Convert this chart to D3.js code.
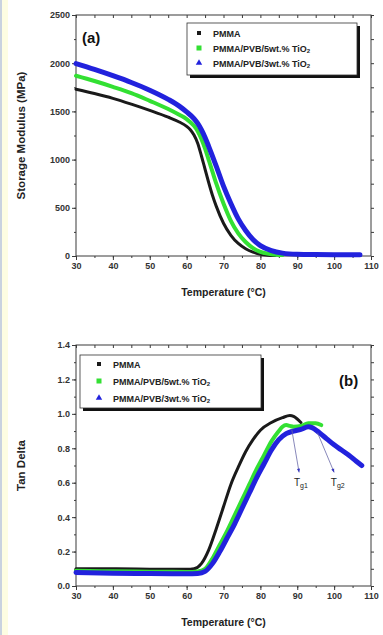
<!DOCTYPE html>
<html><head><meta charset="utf-8">
<script src="https://cdn.jsdelivr.net/npm/d3@7"></script>
<style>
html,body{margin:0;padding:0;background:#fff;}
svg{display:block;}
text{font-family:Arial,"Liberation Sans",sans-serif;}
</style></head>
<body>
<script>
// ---------- DATA ----------
const xTicks = [30,40,50,60,70,80,90,100,110];
const modTicks = [0,500,1000,1500,2000,2500];
const tanTicks = [0.0,0.2,0.4,0.6,0.8,1.0,1.2,1.4];
const seriesNames = ["PMMA","PMMA/PVB/5wt.% TiO2","PMMA/PVB/3wt.% TiO2"];
const seriesColors = ["#1a1a1a","#33e033","#2222dd"];

// Storage modulus (MPa)
const modT_pmma = [30,35,40,45,50,55,58,60,61,62,63,64,65,66,67,68,70,72,74,76,78,80,82,84];
const mod_pmma  = [1730,1685,1635,1575,1510,1440,1390,1345,1310,1255,1170,1040,900,760,630,520,340,215,130,75,40,18,8,5];
const modT_5wt  = [30,35,40,45,50,55,58,60,62,63,64,65,66,67,68,70,72,74,76,78,80,83,86];
const mod_5wt   = [1870,1815,1755,1690,1610,1525,1465,1420,1350,1295,1215,1115,995,875,755,545,365,235,145,82,42,18,10];
const modT_3wt  = [30,35,40,45,50,55,58,60,62,63,64,65,66,67,68,70,72,74,76,78,80,83,86,90,95,100,107];
const mod_3wt   = [1995,1935,1870,1800,1720,1625,1555,1495,1425,1375,1310,1230,1135,1035,935,725,545,385,265,172,108,56,30,18,15,14,14];

// Tan delta
const tanT_pmma = [30,40,50,60,62,64,66,68,70,72,74,76,78,80,83,86,88,89,90,91];
const tan_pmma  = [0.10,0.10,0.098,0.097,0.10,0.13,0.21,0.33,0.46,0.59,0.69,0.78,0.85,0.905,0.95,0.978,0.99,0.985,0.97,0.95];
const tanT_5wt  = [30,40,50,60,63,65,67,69,71,73,75,77,79,81,83,85,86,87,88,89,91,93,95,96.5];
const tan_5wt   = [0.088,0.085,0.083,0.082,0.085,0.10,0.16,0.24,0.32,0.41,0.50,0.59,0.68,0.76,0.84,0.90,0.925,0.935,0.93,0.925,0.93,0.945,0.945,0.935];
const tanT_3wt  = [30,40,50,60,63,65,67,69,71,73,75,77,79,81,83,85,87,89,91,93,94,96,98,100,102,104,106,107.5];
const tan_3wt   = [0.078,0.074,0.072,0.071,0.073,0.085,0.13,0.20,0.28,0.36,0.45,0.54,0.63,0.71,0.79,0.85,0.885,0.90,0.91,0.925,0.92,0.89,0.855,0.82,0.79,0.76,0.725,0.70];

// ---------- DRAW ----------
const W = 383, H = 635;
const svg = d3.select("body").append("svg").attr("width",W).attr("height",H);
svg.append("rect").attr("x",0).attr("y",0).attr("width",2).attr("height",H).attr("fill","#c9d2df");
svg.append("rect").attr("x",2).attr("y",0).attr("width",6).attr("height",H).attr("fill","#fdfde2");

const x0 = 76, x1 = 371;
const axisColor = "#3a3a3a";

function panel(cfg){
  const x = d3.scaleLinear().domain([30,110]).range([x0,x1]);
  const y = d3.scaleLinear().domain(cfg.ydom).range([cfg.bottom,cfg.top]);
  const g = svg.append("g");
  g.append("rect").attr("x",x0).attr("y",cfg.top).attr("width",x1-x0).attr("height",cfg.bottom-cfg.top)
    .attr("fill","none").attr("stroke",axisColor).attr("stroke-width",1);
  const xMinor = d3.range(30,111,5);
  const yMinor = d3.range(cfg.ydom[0], cfg.ydom[1]+cfg.minor/2, cfg.minor);
  const bx = g.append("g").attr("transform",`translate(0,${cfg.bottom})`)
    .call(d3.axisBottom(x).tickValues(xMinor).tickSize(2).tickFormat(""));
  const bx2 = g.append("g").attr("transform",`translate(0,${cfg.bottom})`)
    .call(d3.axisBottom(x).tickValues(xTicks).tickSize(4).tickPadding(3).tickFormat(d3.format("d")));
  const tx = g.append("g").attr("transform",`translate(0,${cfg.top})`)
    .call(d3.axisBottom(x).tickValues(xMinor).tickSize(3).tickFormat(""));
  const ly = g.append("g").attr("transform",`translate(${x0},0)`)
    .call(d3.axisLeft(y).tickValues(yMinor).tickSize(2).tickFormat(""));
  const ly2 = g.append("g").attr("transform",`translate(${x0},0)`)
    .call(d3.axisLeft(y).tickValues(cfg.ticks).tickSize(4).tickPadding(2).tickFormat(cfg.fmt));
  const ry = g.append("g").attr("transform",`translate(${x1},0)`)
    .call(d3.axisRight(y).tickValues(yMinor).tickSize(3).tickFormat(""));
  [bx,bx2,tx,ly,ly2,ry].forEach(a=>{
    a.select(".domain").remove();
    a.selectAll("line").attr("stroke",axisColor);
    a.selectAll("text").attr("fill","#333").attr("font-size",9).attr("font-weight","bold");
  });
  const line = d3.line().x(d=>x(d[0])).y(d=>y(d[1])).curve(d3.curveMonotoneX);
  const widths = [3,4,5];
  cfg.series.forEach((s,i)=>{
    const pts = s.t.map((t,k)=>[t,s.v[k]]);
    g.append("path").datum(pts).attr("d",line).attr("fill","none")
      .attr("stroke",seriesColors[i]).attr("stroke-width",widths[i]).attr("stroke-linejoin","round").attr("stroke-linecap","round");
  });
  g.append("text").attr("x",(x0+x1)/2).attr("y",cfg.bottom+40).attr("text-anchor","middle")
    .attr("font-size",10.5).attr("font-weight","bold").attr("fill","#222").text("Temperature (°C)");
  g.append("text").attr("transform",`translate(25,${(cfg.top+cfg.bottom)/2}) rotate(-90)`).attr("text-anchor","middle")
    .attr("font-size",11.5).attr("font-weight","bold").attr("fill","#222").text(cfg.ytitle);
  g.append("text").attr("x",cfg.lab[0]).attr("y",cfg.lab[1]).attr("font-size",15).attr("font-weight","bold")
    .attr("fill","#111").text(cfg.label);
  const L = cfg.legend;
  g.append("path").attr("d",`M${L.x+3},${L.y+L.h+1.5}H${L.x+L.w+1.5}V${L.y+3}`)
    .attr("fill","none").attr("stroke","#111").attr("stroke-width",3);
  g.append("rect").attr("x",L.x).attr("y",L.y).attr("width",L.w).attr("height",L.h)
    .attr("fill","#fff").attr("stroke","#333").attr("stroke-width",0.8);
  seriesNames.forEach((n,i)=>{
    const yy = L.rows[i];
    const mx = L.x+L.mx;
    if(i===2){
      g.append("path").attr("d",d3.symbol(d3.symbolTriangle,18)()).attr("transform",`translate(${mx},${yy})`).attr("fill",seriesColors[i]);
    } else if(i===1){
      g.append("rect").attr("x",mx-2.5).attr("y",yy-2.5).attr("width",5).attr("height",5).attr("fill",seriesColors[i]);
    } else {
      g.append("rect").attr("x",mx-2).attr("y",yy-2).attr("width",4).attr("height",4).attr("fill",seriesColors[i]);
    }
    const t = g.append("text").attr("x",L.x+L.tx).attr("y",yy+3.5).attr("font-size",9).attr("font-weight","bold").attr("fill","#222");
    if(i===0){ t.text(n); }
    else {
      t.text(n.replace("TiO2","TiO"));
      t.append("tspan").attr("font-size",6).attr("dy",1.5).text("2");
    }
  });
  return {x,y,g};
}

const pa = panel({
  top:15, bottom:256, ydom:[0,2500], ticks:modTicks, minor:250, fmt:d3.format("d"),
  ytitle:"Storage Modulus (MPa)", label:"(a)", lab:[82,43],
  legend:{x:187,y:23,w:170,h:52,rows:[33,48,63],mx:12,tx:26},
  series:[{t:modT_pmma,v:mod_pmma},{t:modT_5wt,v:mod_5wt},{t:modT_3wt,v:mod_3wt}]
});

const pb = panel({
  top:345, bottom:586, ydom:[0,1.4], ticks:tanTicks, minor:0.1, fmt:d3.format(".1f"),
  ytitle:"Tan Delta", label:"(b)", lab:[339,386],
  legend:{x:80,y:355,w:181,h:53,rows:[364,381,398],mx:19,tx:33},
  series:[{t:tanT_pmma,v:tan_pmma},{t:tanT_5wt,v:tan_5wt},{t:tanT_3wt,v:tan_3wt}]
});

const tgs = [{from:[88.5,0.91],to:[90.5,0.66],lab:[91,0.58],s:"g1"},
             {from:[95.5,0.89],to:[100,0.66],lab:[101,0.58],s:"g2"}];
tgs.forEach(a=>{
  const fx=pb.x(a.from[0]), fy=pb.y(a.from[1]), tx=pb.x(a.to[0]), ty=pb.y(a.to[1]);
  pb.g.append("line").attr("x1",fx).attr("y1",fy).attr("x2",tx).attr("y2",ty)
    .attr("stroke","#6a6aa8").attr("stroke-width",0.8);
  const ang = Math.atan2(ty-fy,tx-fx);
  const hl=4;
  pb.g.append("path").attr("d",`M${tx},${ty}L${tx-hl*Math.cos(ang-0.4)},${ty-hl*Math.sin(ang-0.4)}L${tx-hl*Math.cos(ang+0.4)},${ty-hl*Math.sin(ang+0.4)}Z`)
    .attr("fill","#3434c0");
  const t = pb.g.append("text").attr("x",pb.x(a.lab[0])).attr("y",pb.y(a.lab[1])).attr("text-anchor","middle")
    .attr("font-size",10).attr("fill","#222").text("T");
  t.append("tspan").attr("font-size",7).attr("dy",2).text(a.s);
});
</script>
</body></html>
